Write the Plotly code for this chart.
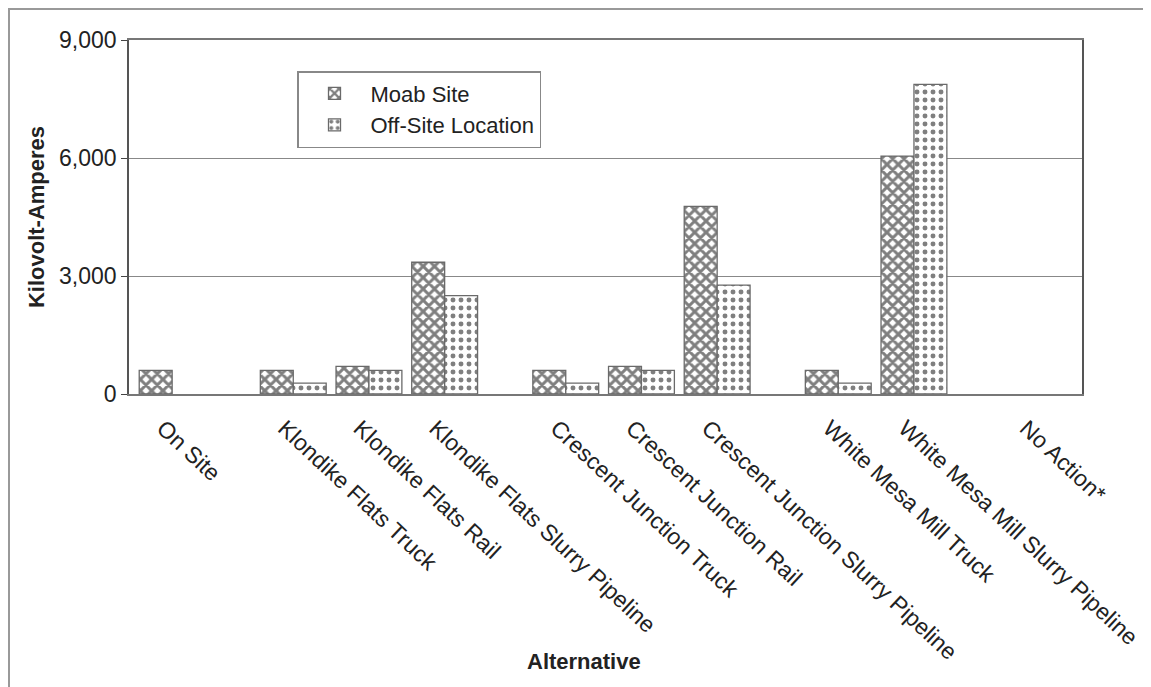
import plotly.graph_objects as go

# ---- data ----
categories = ["On Site",
              "Klondike Flats Truck", "Klondike Flats Rail", "Klondike Flats Slurry Pipeline",
              "Crescent Junction Truck", "Crescent Junction Rail", "Crescent Junction Slurry Pipeline",
              "White Mesa Mill Truck", "White Mesa Mill Slurry Pipeline",
              "No Action*"]
groups = [0, 1, 1, 1, 2, 2, 2, 3, 3, 4]   # site grouping (drives the wider gaps)
moab_site = [600, 600, 700, 3350, 600, 700, 4770, 600, 6050, None]
off_site = [None, 275, 600, 2500, 275, 600, 2770, 275, 7870, None]
y_ticks = [0, 3000, 6000, 9000]

# ---- layout helpers ----
GROUP_GAP = 0.6
xpos = [i + GROUP_GAP * g for i, g in enumerate(groups)]

OFF = 8  # page body margin
W, H = 1151 - OFF, 687 - OFF
L, T = 129 - OFF, 40 - OFF
R = (1151 - OFF) - (1082 - OFF)
B = H - (394 - OFF)
pw, ph = W - L - R, H - T - B

def px_x(px):
    return (px - OFF - L) / pw

def px_y(py):
    return (H - B - (py - OFF)) / ph

FONT = "Liberation Sans, Arial, sans-serif"
OUTLINE = "#6a6a6a"
FS = 23

fig = go.Figure()
fig.add_trace(go.Bar(
    name="Moab Site", x=xpos, y=moab_site,
    marker=dict(color="white", line=dict(color=OUTLINE, width=1.3),
                pattern=dict(shape="x", size=8, solidity=0.6,
                             fgcolor="#000", bgcolor="white")),
))
fig.add_trace(go.Bar(
    name="Off-Site Location", x=xpos, y=off_site,
    marker=dict(color="white", line=dict(color=OUTLINE, width=1.3),
                pattern=dict(shape=".", size=8, solidity=0.3,
                             fgcolor="#000", bgcolor="white")),
))

fig.update_layout(
    width=W, height=H,
    margin=dict(l=L, r=R, t=T, b=B, autoexpand=False),
    paper_bgcolor="white", plot_bgcolor="white",
    barmode="group", bargap=0.13, bargroupgap=0,
    font=dict(family=FONT, size=FS, color="#222"),
    showlegend=True,
    legend=dict(x=px_x(297), y=px_y(71), xanchor="left", yanchor="top",
                bgcolor="white", bordercolor="#888", borderwidth=1.5,
                font=dict(size=FS - 1, color="#222"),
                tracegroupgap=0, itemwidth=62),
    xaxis=dict(
        range=[-0.57, 12.02], automargin=False,
        tickmode="array", tickvals=xpos, ticktext=categories,
        tickangle=43, ticks="", showgrid=False, zeroline=False,
        showline=True, linecolor="#777", linewidth=1.5, mirror=True,
        tickfont=dict(size=FS, color="#222"),
        ticklabeloverflow="allow",
        ticklabelshift=-9, ticklabelstandoff=10,
    ),
    yaxis=dict(
        range=[0, 9000], tickvals=y_ticks, tickformat=",", automargin=False,
        ticks="outside", ticklen=6, tickcolor="#444",
        showgrid=True, gridcolor="#888", gridwidth=1.2, zeroline=False,
        showline=True, linecolor="#555", linewidth=1.5, mirror=True,
        tickfont=dict(size=FS, color="#222"),
        title=dict(text="<b>Kilovolt-Amperes</b>", font=dict(size=FS - 1, color="#222"),
                   standoff=8),
    ),
    annotations=[dict(text="<b>Alternative</b>", xref="paper", yref="paper",
                      x=px_x(584), y=px_y(661), xanchor="center", yanchor="middle",
                      showarrow=False, font=dict(size=FS - 1, color="#222"))],
    shapes=[
        dict(type="line", xref="paper", yref="paper",
             x0=px_x(OFF), x1=px_x(1151), y0=px_y(9), y1=px_y(9),
             line=dict(color="#999", width=2)),
        dict(type="line", xref="paper", yref="paper",
             x0=px_x(OFF + 1), x1=px_x(OFF + 1), y0=px_y(9), y1=px_y(687),
             line=dict(color="#999", width=2)),
    ],
)

fig.write_html("out.html")
